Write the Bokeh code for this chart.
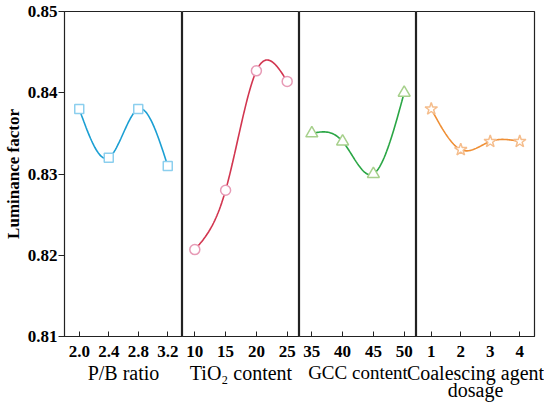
import numpy as np
from bokeh.plotting import figure
from bokeh.layouts import row
from bokeh.models import Range1d, FixedTicker, PrintfTickFormatter
from bokeh.embed import file_html
from bokeh.resources import INLINE

# ---- data ----
pb_ratio = [2.0, 2.4, 2.8, 3.2]
pb_lum = [0.838, 0.832, 0.838, 0.831]
tio2 = [10, 15, 20, 25]
tio2_lum = [0.8207, 0.8280, 0.8427, 0.8414]
gcc = [35, 40, 45, 50]
gcc_lum = [0.835, 0.834, 0.830, 0.840]
coal = [1, 2, 3, 4]
coal_lum = [0.838, 0.833, 0.834, 0.834]
y_ticks = [0.81, 0.82, 0.83, 0.84, 0.85]
x_labels = ["P/B ratio", "TiO\u2082 content", "GCC content", "Coalescing agent\ndosage"]


def natural_spline(x, y, n=80):
    x = np.asarray(x, float)
    y = np.asarray(y, float)
    k = len(x)
    h = np.diff(x)
    A = np.zeros((k, k))
    b = np.zeros(k)
    A[0, 0] = 1
    A[-1, -1] = 1
    for i in range(1, k - 1):
        A[i, i - 1] = h[i - 1]
        A[i, i] = 2 * (h[i - 1] + h[i])
        A[i, i + 1] = h[i]
        b[i] = 6 * ((y[i + 1] - y[i]) / h[i] - (y[i] - y[i - 1]) / h[i - 1])
    M = np.linalg.solve(A, b)
    xs = np.linspace(x[0], x[-1], n)
    ys = np.empty_like(xs)
    for j, t in enumerate(xs):
        i = min(np.searchsorted(x, t, side="right") - 1, k - 2)
        i = max(i, 0)
        a = x[i + 1] - t
        c = t - x[i]
        hi = h[i]
        ys[j] = (M[i] * a ** 3 / (6 * hi) + M[i + 1] * c ** 3 / (6 * hi)
                 + (y[i] / hi - M[i] * hi / 6) * a + (y[i + 1] / hi - M[i + 1] * hi / 6) * c)
    return xs, ys


panels = [
    dict(x=pb_ratio, y=pb_lum, xr=(1.8, 3.4), fmt="%.1f", line="#1b9fd3", mk="#8ccfee",
         marker="square", size=9, fw=118, lab="20px"),
    dict(x=tio2, y=tio2_lum, xr=(8.0, 27.0), fmt="%d", line="#d23650", mk="#e79bb6",
         marker="circle", size=10, fw=117, lab="20px"),
    dict(x=gcc, y=gcc_lum, xr=(33.0, 52.0), fmt="%d", line="#2aa645", mk="#a7d08c",
         marker="triangle", size=12, fw=117, lab="19px"),
    dict(x=coal, y=coal_lum, xr=(0.5, 4.5), fmt="%d", line="#ef8f35", mk="#f5bd8c",
         marker="star", size=13, fw=118, lab="20px"),
]

SERIF = "Liberation Serif"
y_range = Range1d(0.81, 0.85)
OVER = 14
figs = []
for idx, pn in enumerate(panels):
    first = idx == 0
    last = idx == 3
    p = figure(frame_width=pn["fw"], frame_height=325,
               x_range=Range1d(*pn["xr"]), y_range=y_range,
               output_backend="svg", toolbar_location=None,
               y_axis_location="left" if first else None,
               min_border=0, min_border_top=11,
               min_border_left=OVER if last else 0,
               min_border_right=10 if last else 0,
               background_fill_color="white",
               border_fill_color=None if last else "white")
    if last:
        p.styles = {"margin-left": "-%dpx" % OVER}
    p.xgrid.visible = False
    p.ygrid.visible = False
    p.outline_line_color = "#222222"
    p.outline_line_width = 1.2

    ax = p.xaxis[0]
    ax.ticker = FixedTicker(ticks=pn["x"])
    ax.formatter = PrintfTickFormatter(format=pn["fmt"])
    ax.major_tick_in = 5
    ax.major_tick_out = 0
    ax.minor_tick_in = 0
    ax.minor_tick_out = 0
    ax.axis_line_color = "#222222"
    ax.major_tick_line_color = "#222222"
    ax.major_label_text_font = SERIF
    ax.major_label_text_font_style = "bold"
    ax.major_label_text_font_size = "17px"
    ax.major_label_text_color = "black"
    ax.major_label_standoff = 9
    ax.axis_label = x_labels[idx]
    ax.axis_label_text_font = SERIF
    ax.axis_label_text_font_style = "normal"
    ax.axis_label_text_font_size = pn["lab"]
    ax.axis_label_text_color = "black"
    ax.axis_label_standoff = 2
    ax.axis_label_text_line_height = 0.8

    if first:
        ya = p.yaxis[0]
        ya.ticker = FixedTicker(ticks=y_ticks)
        ya.formatter = PrintfTickFormatter(format="%.2f")
        ya.major_tick_in = 0
        ya.major_tick_out = 6
        ya.minor_tick_in = 0
        ya.minor_tick_out = 0
        ya.axis_line_color = "#222222"
        ya.major_tick_line_color = "#222222"
        ya.major_label_text_font = SERIF
        ya.major_label_text_font_style = "bold"
        ya.major_label_text_font_size = "17px"
        ya.major_label_text_color = "black"
        ya.major_label_standoff = 1
        ya.axis_label = "Luminance factor"
        ya.axis_label_text_font = SERIF
        ya.axis_label_text_font_style = "bold"
        ya.axis_label_text_font_size = "17px"
        ya.axis_label_text_color = "black"
        ya.axis_label_standoff = 2

    sx, sy = natural_spline(pn["x"], pn["y"])
    p.line(sx, sy, line_color=pn["line"], line_width=1.6)
    p.scatter(pn["x"], pn["y"], marker=pn["marker"], size=pn["size"],
              fill_color="white", line_color=pn["mk"], line_width=1.5)
    figs.append(p)

layout = row(*figs, spacing=0)
open("out.html", "w").write(file_html(layout, INLINE))
